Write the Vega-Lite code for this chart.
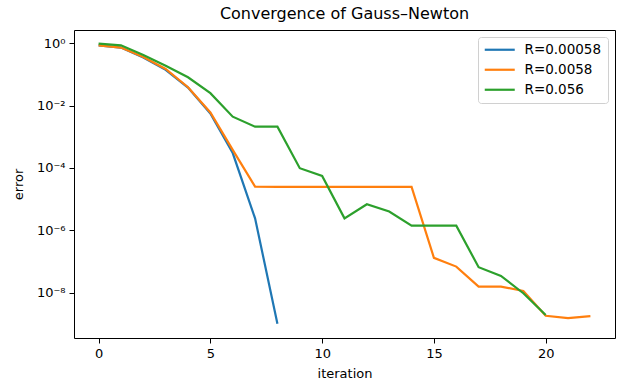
{
  "$schema": "https://vega.github.io/schema/vega-lite/v6.json",
  "autosize": "none",
  "width": 541,
  "height": 308,
  "padding": {"left": 74, "top": 30, "right": 10, "bottom": 53},
  "background": "white",
  "title": {"text": "Convergence of Gauss–Newton", "font": "DejaVu Sans", "fontSize": 16, "fontWeight": "normal", "color": "black", "offset": 8},
  "config": {
    "view": {"stroke": "black", "strokeWidth": 1},
    "font": "DejaVu Sans",
    "axis": {"grid": false, "domain": false, "tickColor": "black", "tickSize": 5, "tickWidth": 1, "labelColor": "black", "labelFontSize": 13, "labelFont": "DejaVu Sans", "titleFont": "DejaVu Sans", "titleFontSize": 13, "titleFontWeight": "normal", "titleColor": "black", "labelPadding": 4}
  },
  "data": {"values": [
    {"series": "R=0.00058", "iteration": 0, "error": 0.86},
    {"series": "R=0.00058", "iteration": 1, "error": 0.73},
    {"series": "R=0.00058", "iteration": 2, "error": 0.35},
    {"series": "R=0.00058", "iteration": 3, "error": 0.14},
    {"series": "R=0.00058", "iteration": 4, "error": 0.038},
    {"series": "R=0.00058", "iteration": 5, "error": 0.0056},
    {"series": "R=0.00058", "iteration": 6, "error": 0.0003},
    {"series": "R=0.00058", "iteration": 7, "error": 2.4e-6},
    {"series": "R=0.00058", "iteration": 8, "error": 1.0e-9},
    {"series": "R=0.0058", "iteration": 0, "error": 0.86},
    {"series": "R=0.0058", "iteration": 1, "error": 0.73},
    {"series": "R=0.0058", "iteration": 2, "error": 0.36},
    {"series": "R=0.0058", "iteration": 3, "error": 0.15},
    {"series": "R=0.0058", "iteration": 4, "error": 0.039},
    {"series": "R=0.0058", "iteration": 5, "error": 0.006},
    {"series": "R=0.0058", "iteration": 6, "error": 0.00038},
    {"series": "R=0.0058", "iteration": 7, "error": 2.5e-5},
    {"series": "R=0.0058", "iteration": 8, "error": 2.45e-5},
    {"series": "R=0.0058", "iteration": 9, "error": 2.45e-5},
    {"series": "R=0.0058", "iteration": 10, "error": 2.45e-5},
    {"series": "R=0.0058", "iteration": 11, "error": 2.45e-5},
    {"series": "R=0.0058", "iteration": 12, "error": 2.45e-5},
    {"series": "R=0.0058", "iteration": 13, "error": 2.45e-5},
    {"series": "R=0.0058", "iteration": 14, "error": 2.45e-5},
    {"series": "R=0.0058", "iteration": 15, "error": 1.3e-7},
    {"series": "R=0.0058", "iteration": 16, "error": 6.8e-8},
    {"series": "R=0.0058", "iteration": 17, "error": 1.55e-8},
    {"series": "R=0.0058", "iteration": 18, "error": 1.55e-8},
    {"series": "R=0.0058", "iteration": 19, "error": 1.12e-8},
    {"series": "R=0.0058", "iteration": 20, "error": 1.8e-9},
    {"series": "R=0.0058", "iteration": 21, "error": 1.5e-9},
    {"series": "R=0.0058", "iteration": 22, "error": 1.75e-9},
    {"series": "R=0.056", "iteration": 0, "error": 0.97},
    {"series": "R=0.056", "iteration": 1, "error": 0.86},
    {"series": "R=0.056", "iteration": 2, "error": 0.42},
    {"series": "R=0.056", "iteration": 3, "error": 0.19},
    {"series": "R=0.056", "iteration": 4, "error": 0.081},
    {"series": "R=0.056", "iteration": 5, "error": 0.025},
    {"series": "R=0.056", "iteration": 6, "error": 0.0044},
    {"series": "R=0.056", "iteration": 7, "error": 0.0021},
    {"series": "R=0.056", "iteration": 8, "error": 0.0021},
    {"series": "R=0.056", "iteration": 9, "error": 9.8e-5},
    {"series": "R=0.056", "iteration": 10, "error": 5.5e-5},
    {"series": "R=0.056", "iteration": 11, "error": 2.4e-6},
    {"series": "R=0.056", "iteration": 12, "error": 6.8e-6},
    {"series": "R=0.056", "iteration": 13, "error": 4.0e-6},
    {"series": "R=0.056", "iteration": 14, "error": 1.4e-6},
    {"series": "R=0.056", "iteration": 15, "error": 1.4e-6},
    {"series": "R=0.056", "iteration": 16, "error": 1.4e-6},
    {"series": "R=0.056", "iteration": 17, "error": 6.5e-8},
    {"series": "R=0.056", "iteration": 18, "error": 3.4e-8},
    {"series": "R=0.056", "iteration": 19, "error": 9.5e-9},
    {"series": "R=0.056", "iteration": 20, "error": 1.9e-9}
  ]},
  "mark": {"type": "line", "strokeWidth": 2.2, "clip": true},
  "encoding": {
    "x": {"field": "iteration", "type": "quantitative",
      "scale": {"domain": [-1.1, 23.1], "nice": false, "zero": false},
      "axis": {"values": [0, 5, 10, 15, 20], "title": "iteration", "titlePadding": 7}},
    "y": {"field": "error", "type": "quantitative",
      "scale": {"type": "log", "domain": [3.47e-10, 2.67], "nice": false},
      "axis": {"values": [1, 0.01, 0.0001, 1e-6, 1e-8], "title": "error", "titlePadding": 11,
        "labelExpr": "datum.value > 0.5 ? '10⁰' : datum.value > 0.005 ? '10⁻²' : datum.value > 0.00005 ? '10⁻⁴' : datum.value > 5e-7 ? '10⁻⁶' : '10⁻⁸'"}},
    "color": {"field": "series", "type": "nominal",
      "scale": {"domain": ["R=0.00058", "R=0.0058", "R=0.056"], "range": ["#1f77b4", "#ff7f0e", "#2ca02c"]},
      "legend": {"title": null, "orient": "top-right", "offset": 7, "fillColor": "white", "strokeColor": "#d0d0d0", "cornerRadius": 3, "padding": 6, "symbolType": "M-3,0L3,0", "symbolStrokeWidth": 2.2, "symbolSize": 100, "symbolOffset": 9, "labelOffset": 18, "labelFontSize": 13.5, "labelColor": "black", "labelFont": "DejaVu Sans", "rowPadding": 5}}
  }
}
